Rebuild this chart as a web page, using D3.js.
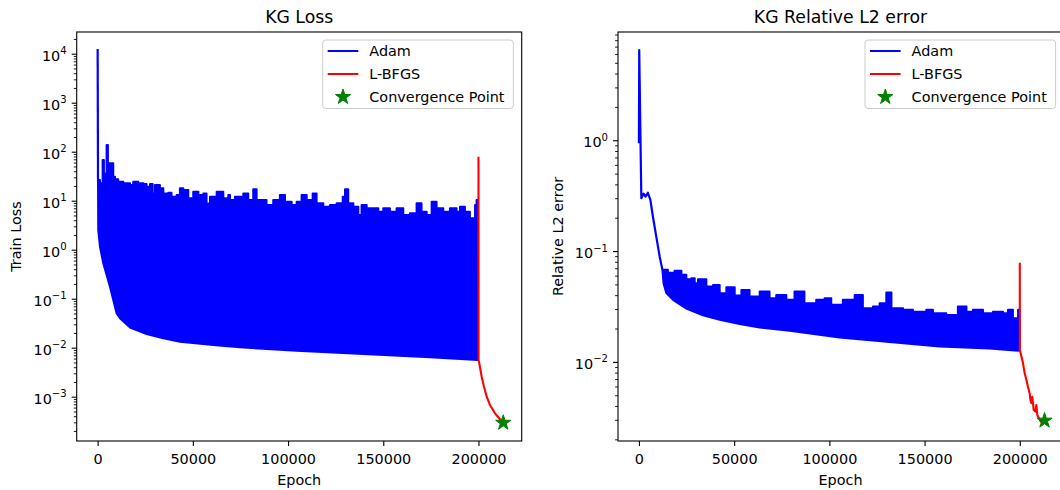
<!DOCTYPE html>
<html><head><meta charset="utf-8">
<script src="https://cdn.jsdelivr.net/npm/d3@7"></script>
<style>body{margin:0;background:#fff} text{font-family:"DejaVu Sans",sans-serif;fill:#000}</style>
</head><body><svg id="c" width="1060" height="490"></svg>
<script>
// ---------------- data ----------------
const xTicks = [0, 50000, 100000, 150000, 200000];
const lossTickExps = [-3, -2, -1, 0, 1, 2, 3, 4];
const errTickExps = [-2, -1, 0];
const seriesNames = ["Adam", "L-BFGS", "Convergence Point"];
const titles = ["KG Loss", "KG Relative L2 error"];
const yLabels = ["Train Loss", "Relative L2 error"];
const xLabel = "Epoch";

// Train loss, Adam: initial spike, then upper / lower envelope of the oscillating band
const lossAdamHead = [[0, 12500], [200, 24.5]];
const lossAdamUpper = [[200, 24.5], [330, 26.5], [1200, 22.6], [2600, 68], [3300, 36], [4700, 137], [5400, 58], [7400, 58], [8200, 31], [9100, 27.3], [10800, 24.5], [13500, 22.6], [17000, 20.9], [18700, 24.5], [21300, 22.6], [24000, 21.9], [25700, 19.3], [27500, 21.9], [28900, 14.1], [30100, 20.9], [32700, 17.9], [34500, 14.1], [37100, 14.6], [38800, 12], [41500, 13.1], [43200, 17.9], [45000, 16.5], [47600, 11.2], [50200, 15.3], [52900, 13.1], [55500, 14.1], [57200, 8.8], [59000, 12], [62500, 15.3], [66000, 11.2], [68600, 13.1], [69500, 10.3], [72100, 12.1], [76500, 14.1], [79100, 10.3], [81700, 17.1], [83500, 10.3], [86100, 10.3], [88700, 8.17], [92200, 10.3], [95700, 13.1], [98400, 9.55], [101900, 8.17], [104500, 9.55], [107100, 13.1], [109800, 10.3], [112900, 14.1], [115000, 8.83], [118500, 7.55], [122000, 8.17], [125500, 8.83], [128700, 12.1], [129900, 17.1], [131600, 8.83], [134300, 7.55], [136900, 5.1], [138600, 8.17], [141300, 6.98], [144800, 6.98], [147400, 5.97], [150000, 6.98], [153500, 5.97], [157000, 6.98], [160500, 5.1], [164000, 5.52], [167500, 8.83], [170100, 5.97], [172800, 5.1], [175400, 9.55], [178000, 6.98], [181500, 5.97], [185000, 6.98], [188500, 5.97], [190300, 7.55], [192900, 5.97], [195500, 4.36], [198200, 8.17], [199000, 10.3], [199700, 10.3]];
const lossAdamLower = [[200, 22.6], [315, 2.5], [1210, 1.15], [2940, 0.53], [6460, 0.176], [9970, 0.050], [11700, 0.040], [17000, 0.0257], [25700, 0.019], [34500, 0.0155], [43200, 0.0132], [60700, 0.0114], [74700, 0.0102], [104500, 0.0087], [139500, 0.0074], [174500, 0.0064], [199700, 0.0056]];
const lossLbfgs = [[200000, 79], [200050, 0.0056], [200420, 0.00481], [201680, 0.00256], [202890, 0.0016], [204310, 0.001], [206040, 0.000678], [208670, 0.000458], [211290, 0.000346], [213000, 0.000294]];
const lossStar = [213000, 0.000294];

// Relative L2 error
const errAdamHead = [[0, 0.94], [150, 6.5], [1250, 0.30], [2470, 0.33], [3500, 0.31], [4700, 0.336], [6000, 0.29], [7350, 0.204], [9100, 0.135], [10900, 0.089], [12300, 0.068]];
const errAdamUpper = [[12300, 0.068], [15200, 0.0638], [18700, 0.0665], [22300, 0.0610], [24900, 0.0556], [27500, 0.0569], [29300, 0.0513], [31000, 0.0556], [35400, 0.0479], [38900, 0.0494], [42400, 0.0417], [45900, 0.0471], [50300, 0.0398], [53800, 0.0446], [58100, 0.0389], [63400, 0.0431], [68600, 0.0375], [72100, 0.0402], [77400, 0.0363], [81700, 0.0431], [86900, 0.0339], [93100, 0.0363], [97500, 0.0375], [101000, 0.0327], [107100, 0.0363], [113300, 0.0402], [117600, 0.0305], [122900, 0.0316], [126400, 0.0339], [129900, 0.0422], [132600, 0.0305], [138700, 0.0295], [143900, 0.0284], [150900, 0.0295], [154400, 0.0275], [161400, 0.0265], [167500, 0.0316], [172000, 0.0284], [175400, 0.0295], [180700, 0.0275], [185900, 0.0284], [191200, 0.0275], [193800, 0.0295], [196400, 0.0248], [199100, 0.0295], [199900, 0.0295]];
const errAdamLower = [[12300, 0.068], [12900, 0.051], [14400, 0.0417], [17900, 0.0363], [24900, 0.0302], [33600, 0.0263], [42400, 0.024], [52900, 0.022], [63400, 0.0204], [79100, 0.0191], [105400, 0.0166], [131600, 0.0151], [157900, 0.0138], [184100, 0.0132], [199900, 0.0126]];
const errLbfgs = [[200000, 0.0785], [200050, 0.0128], [201700, 0.0097], [202600, 0.00789], [203500, 0.00687], [204300, 0.00597], [205200, 0.00521], [205600, 0.00453], [206100, 0.00423], [206600, 0.00485], [207300, 0.00368], [208200, 0.00356], [208700, 0.00408], [209200, 0.00332], [210100, 0.0031], [211000, 0.00289], [211800, 0.00299], [213000, 0.00295]];
const errStar = [213000, 0.00295];

// ---------------- layout ----------------
const FS = 14.4, TFS = 17.3;
const plotTop = 32, plotBottom = 441;
const xDomain = [-11000, 222700];
const panels = [
  {x0: 76.7, x1: 521.7, yDom: [Math.pow(10, -3.904), Math.pow(10, 4.443)], exps: lossTickExps,
   title: titles[0], ylabel: yLabels[0], ylabelX: 20.5,
   head: lossAdamHead, upper: lossAdamUpper, lower: lossAdamLower, lbfgs: lossLbfgs, star: lossStar, legX: 322.7},
  {x0: 618, x1: 1063, yDom: [Math.pow(10, -2.714), Math.pow(10, 0.977)], exps: errTickExps,
   title: titles[1], ylabel: yLabels[1], ylabelX: 563.3,
   head: errAdamHead, upper: errAdamUpper, lower: errAdamLower, lbfgs: errLbfgs, star: errStar, legX: 865}
];
const BLUE = "#0000ff", RED = "#ff0000", GREEN = "#008000";
const svg = d3.select("#c");
const starSym = d3.symbol().type(d3.symbolStar).size(72);

panels.forEach((p, i) => {
  const x = d3.scaleLinear().domain(xDomain).range([p.x0, p.x1]);
  const y = d3.scaleLog().domain(p.yDom).range([plotBottom, plotTop]);
  const g = svg.append("g");
  const cid = "clip" + i;
  g.append("clipPath").attr("id", cid).append("rect")
    .attr("x", p.x0).attr("y", plotTop).attr("width", p.x1 - p.x0).attr("height", plotBottom - plotTop);
  const plot = g.append("g").attr("clip-path", `url(#${cid})`);
  const line = d3.line().x(d => x(d[0])).y(d => y(d[1]));
  const stepLine = d3.line().curve(d3.curveStepAfter).x(d => x(d[0])).y(d => y(d[1]));

  // Adam band: stepped upper envelope + reversed lower envelope
  const up = stepLine(p.upper);
  const lo = line(p.lower.slice().reverse());
  plot.append("path").attr("d", up + "L" + lo.slice(1) + "Z")
    .attr("fill", BLUE).attr("stroke", BLUE).attr("stroke-width", 2).attr("stroke-linejoin", "round");
  plot.append("path").attr("d", line(p.head))
    .attr("fill", "none").attr("stroke", BLUE).attr("stroke-width", 2.2).attr("stroke-linejoin", "round");
  // L-BFGS
  plot.append("path").attr("d", line(p.lbfgs))
    .attr("fill", "none").attr("stroke", RED).attr("stroke-width", 2.1).attr("stroke-linejoin", "round");
  // convergence star
  plot.append("path").attr("d", starSym())
    .attr("transform", `translate(${x(p.star[0])},${y(p.star[1])})`)
    .attr("fill", GREEN).attr("stroke", GREEN).attr("stroke-width", 1);

  // x axis
  const xa = g.append("g").attr("transform", `translate(0,${plotBottom})`)
    .call(d3.axisBottom(x).tickValues(xTicks).tickFormat(d3.format("d")).tickSize(5).tickPadding(7.6));
  xa.select(".domain").remove();
  xa.selectAll("line").attr("stroke", "#000").attr("stroke-width", 1.1);
  xa.selectAll("text").attr("font-size", FS).attr("font-family", "DejaVu Sans").attr("fill", "#000");

  // y axis major & minor ticks
  const majors = p.exps.map(e => Math.pow(10, e));
  const minors = [];
  for (let e = Math.floor(Math.log10(p.yDom[0])); e <= Math.ceil(Math.log10(p.yDom[1])); e++)
    for (let m = 2; m <= 9; m++) {
      const v = m * Math.pow(10, e);
      if (v >= p.yDom[0] && v <= p.yDom[1]) minors.push(v);
    }
  const ya = g.append("g").attr("transform", `translate(${p.x0},0)`)
    .call(d3.axisLeft(y).tickValues(majors).tickFormat("").tickSize(5));
  const ym = g.append("g").attr("transform", `translate(${p.x0},0)`)
    .call(d3.axisLeft(y).tickValues(minors).tickFormat("").tickSize(2.9));
  [ya, ym].forEach(a => { a.select(".domain").remove(); a.selectAll("line").attr("stroke", "#000").attr("stroke-width", 0.9); });
  ya.selectAll("line").attr("stroke-width", 1.1);
  // y tick labels: 10^e
  p.exps.forEach(e => {
    const t = g.append("text").attr("x", p.x0 - 10).attr("y", y(Math.pow(10, e)) + 7)
      .attr("text-anchor", "end").attr("font-size", FS);
    t.append("tspan").text("10");
    t.append("tspan").attr("font-size", FS * 0.7).attr("dy", -6.5)
      .text(e < 0 ? "\u2212" + Math.abs(e) : String(e));
  });

  // frame
  g.append("rect").attr("x", p.x0).attr("y", plotTop).attr("width", p.x1 - p.x0).attr("height", plotBottom - plotTop)
    .attr("fill", "none").attr("stroke", "#000").attr("stroke-width", 1.1);

  // titles and labels
  const cx = (p.x0 + p.x1) / 2;
  g.append("text").attr("x", cx).attr("y", 22.5).attr("text-anchor", "middle").attr("font-size", TFS).text(p.title);
  g.append("text").attr("x", cx).attr("y", 485).attr("text-anchor", "middle").attr("font-size", FS).text(xLabel);
  g.append("text").attr("transform", `translate(${p.ylabelX},${(plotTop + plotBottom) / 2}) rotate(-90)`)
    .attr("text-anchor", "middle").attr("font-size", FS).text(p.ylabel);

  // legend
  const lg = g.append("g");
  lg.append("rect").attr("x", p.legX).attr("y", 40).attr("width", 190.6).attr("height", 68.5)
    .attr("rx", 3).attr("fill", "#fff").attr("fill-opacity", 0.8).attr("stroke", "#cccccc").attr("stroke-width", 1);
  const rows = [51, 74, 97];
  const colors = [BLUE, RED, GREEN];
  seriesNames.forEach((name, k) => {
    if (k < 2) {
      lg.append("line").attr("x1", p.legX + 5).attr("x2", p.legX + 35.6).attr("y1", rows[k]).attr("y2", rows[k])
        .attr("stroke", colors[k]).attr("stroke-width", 2);
    } else {
      lg.append("path").attr("d", starSym()).attr("transform", `translate(${p.legX + 20.3},${rows[k]})`)
        .attr("fill", GREEN).attr("stroke", GREEN).attr("stroke-width", 1);
    }
    lg.append("text").attr("x", p.legX + 46.6).attr("y", rows[k] + 5.2).attr("font-size", FS).text(name);
  });
});
</script>
</body></html>
